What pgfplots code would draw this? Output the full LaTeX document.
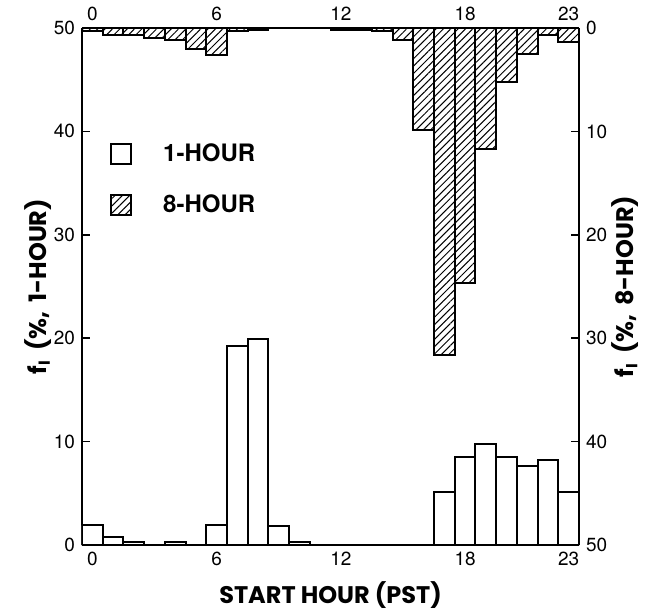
\documentclass[border=0pt]{standalone}
\usepackage{fontspec}
\setmainfont{TeX Gyre Heros}
\newfontfamily\labelfont{Poppins}
\usepackage{pgfplots}
\pgfplotsset{compat=1.18}
\usetikzlibrary{patterns.meta,calc}

\begin{document}
\begin{tikzpicture}
\pgfplotsset{
  common/.style={
    scale only axis,
    width=248.5pt, height=258.5pt,
    xmin=-0.5, xmax=23.5, ymin=0, ymax=50,
    xtick={0,6,12,18,23},
    ytick={0,10,20,30,40,50},
    tick align=inside,
    major tick length=4pt,
    x tick style={draw=none},
    y tick style={line width=0.8pt, black},
    axis line style={line width=1pt},
    ticklabel style={font=\fontsize{9.5}{10}\selectfont},
    /pgf/number format/assume math mode=true,
  },
  hourbar/.style={ybar, bar width=1, bar shift=0pt, draw=black, line width=1pt},
  hatch/.style={pattern={Lines[angle=45, distance=2.6pt, line width=0.5pt]}},
}
% 1-hour bars, left axis
\begin{axis}[common, name=ax,
  axis x line*=bottom, axis y line*=left,
  xlabel={START HOUR (PST)},
  ylabel={f\textsubscript{I} \,(\%,\, 1-HOUR)},
  every axis x label/.style={at={(axis description cs:0.5,-0.097)}, anchor=center,
    font=\labelfont\bfseries\fontsize{12}{14}\selectfont},
  every axis y label/.style={at={(axis description cs:-0.089,0.5)}, rotate=90, anchor=center,
    font=\labelfont\bfseries\fontsize{12}{14}\selectfont},
  legend style={draw=none, fill=none, at={(axis description cs:0.056,0.785)},
    anchor=north west, row sep=11pt, inner sep=0pt,
    font=\bfseries\fontsize{12}{14}\selectfont},
  legend cell align=left,
  legend image code/.code={
    \draw[#1] (0pt,-5pt) rectangle (10pt,5pt);
    \pgfpathmoveto{\pgfpoint{24pt}{0pt}}\pgfusepath{}
  },
]
\addplot[hourbar, fill=white] coordinates {
  (0,1.9) (1,0.8) (2,0.3) (4,0.3) (6,1.9) (7,19.2) (8,19.9) (9,1.8) (10,0.3)
  (17,5.1) (18,8.5) (19,9.8) (20,8.5) (21,7.6) (22,8.2) (23,5.1)
};
\addlegendentry{1-HOUR}
\addlegendimage{draw=black, line width=1pt, hatch}
\addlegendentry{8-HOUR}
\end{axis}
% 8-hour bars, right axis (reversed)
\begin{axis}[common,
  y dir=reverse,
  axis x line*=top, axis y line*=right,
  ylabel={f\textsubscript{I} \,(\%,\, 8-HOUR)},
  every axis y label/.style={at={(axis description cs:1.093,0.5)}, rotate=90, anchor=center,
    font=\labelfont\bfseries\fontsize{12}{14}\selectfont},
]
\addplot[hourbar, hatch] coordinates {
  (0,0.3) (1,0.7) (2,0.7) (3,1.0) (4,1.2) (5,2.0) (6,2.6) (7,0.3) (8,0.2)
  (12,0.2) (13,0.2) (14,0.3) (15,1.2) (16,9.9) (17,31.6) (18,24.7)
  (19,11.7) (20,5.2) (21,2.5) (22,0.7) (23,1.4)
};
\end{axis}
\pgfresetboundingbox
\path ($(ax.south west)+(-41pt,-33.5pt)$) rectangle ($(ax.north east)+(39pt,14pt)$);
\end{tikzpicture}
\end{document}
